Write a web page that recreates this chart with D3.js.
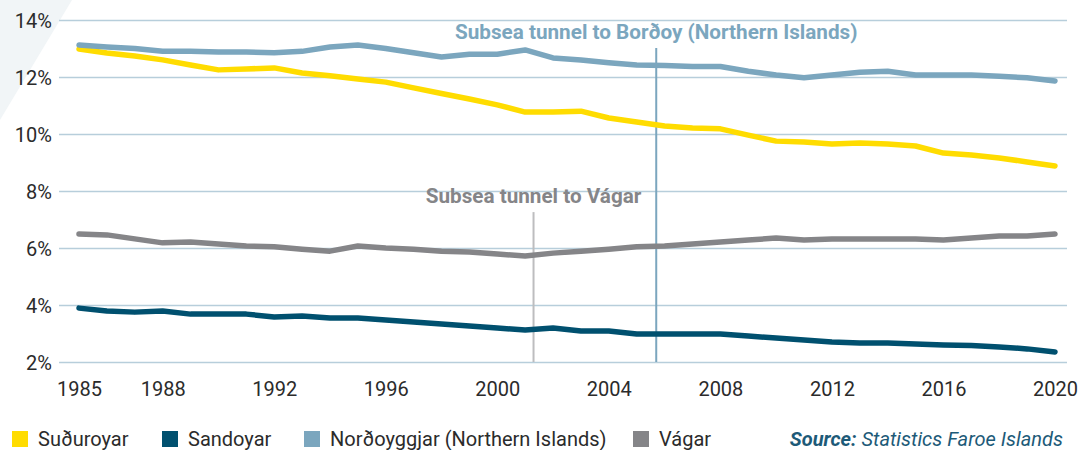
<!DOCTYPE html>
<html>
<head>
<meta charset="utf-8">
<script src="https://cdn.jsdelivr.net/npm/d3@7"></script>
<style>
  body { margin: 0; background: #fff; }
  svg text { font-family: Roboto, "Noto Sans", sans-serif; }
</style>
</head>
<body>
<svg id="chart" width="1082" height="450"></svg>
<script>
const years = d3.range(1985, 2021)

const suduroy = [12.98, 12.84, 12.74, 12.6, 12.42, 12.25, 12.28, 12.32, 12.14, 12.04, 11.93, 11.82,
  11.62, 11.42, 11.23, 11.02, 10.77, 10.77, 10.8, 10.56, 10.42, 10.28, 10.21, 10.18, 9.96, 9.75,
  9.72, 9.65, 9.68, 9.65, 9.58, 9.33, 9.26, 9.16, 9.02, 8.88]
const sandoy = [3.89, 3.79, 3.75, 3.79, 3.68, 3.68, 3.68, 3.58, 3.61, 3.54, 3.54, 3.47,
  3.4, 3.33, 3.26, 3.19, 3.12, 3.19, 3.09, 3.09, 2.98, 2.98, 2.98, 2.98, 2.91, 2.84,
  2.77, 2.7, 2.67, 2.67, 2.63, 2.6, 2.58, 2.53, 2.46, 2.35]
const nordoy = [13.12, 13.05, 13.0, 12.9, 12.9, 12.88, 12.88, 12.85, 12.9, 13.05, 13.12, 13.0,
  12.85, 12.7, 12.8, 12.8, 12.95, 12.67, 12.6, 12.5, 12.42, 12.4, 12.37, 12.37, 12.2, 12.07,
  11.97, 12.07, 12.17, 12.2, 12.07, 12.07, 12.07, 12.03, 11.97, 11.86]
const vagar = [6.49, 6.46, 6.32, 6.18, 6.21, 6.14, 6.07, 6.04, 5.96, 5.89, 6.07, 6.0,
  5.96, 5.89, 5.86, 5.79, 5.72, 5.82, 5.89, 5.96, 6.04, 6.07, 6.14, 6.21, 6.28, 6.35,
  6.28, 6.32, 6.32, 6.32, 6.32, 6.28, 6.35, 6.42, 6.42, 6.49]

const seriesNames = ['Suðuroyar', 'Sandoyar', 'Norðoyggjar (Northern Islands)', 'Vágar']
const seriesColors = ['#ffdc00', '#00506f', '#7ba6be', '#858588']

const yTicks = [2, 4, 6, 8, 10, 12, 14]
const xTicks = [1985, 1988, 1992, 1996, 2000, 2004, 2008, 2012, 2016, 2020]

// tunnel openings (position on the year axis)
const events = [
  {label: 'Subsea tunnel to Vágar', year: 2001.3, top: 7.26, labelY: 7.58, color: '#bdbdbf', textColor: '#858588'},
  {label: 'Subsea tunnel to Borðoy (Northern Islands)', year: 2005.7, top: 13.02, labelY: 13.35, color: '#7ba6be', textColor: '#7ba6be'}
]

const svg = d3.select('#chart')

// pale corner triangle
svg.append('path')
  .attr('d', 'M0,0 L72,0 L0,120 Z')
  .style('fill', '#f1f5f7')

const x = d3.scaleLinear().domain([1985, 2020]).range([79, 1055])
const y = d3.scaleLinear().domain([2, 14]).range([362, 20])

// gridlines + y labels
const yAxis = svg.append('g')
  .attr('transform', 'translate(59,0)')
  .call(d3.axisLeft(y).tickValues(yTicks).tickSize(-1008).tickFormat(d => d + '%').tickPadding(7))
yAxis.select('.domain').remove()
yAxis.selectAll('line').style('stroke', '#b7cedb').style('stroke-width', 1.5)
yAxis.selectAll('text')
  .style('font-size', '20px').style('fill', '#2b2b2b')
  .attr('dy', '0.35em')

const xAxis = svg.append('g')
  .attr('transform', 'translate(0,372)')
  .call(d3.axisBottom(x).tickValues(xTicks).tickSize(0).tickFormat(d3.format('d')).tickPadding(10))
xAxis.select('.domain').remove()
xAxis.selectAll('text')
  .style('font-size', '20px').style('fill', '#2b2b2b')

// event lines
events.forEach(e => {
  svg.append('line')
    .attr('x1', x(e.year)).attr('x2', x(e.year))
    .attr('y1', y(e.top)).attr('y2', y(2))
    .style('stroke', e.color).style('stroke-width', 2)
  svg.append('text')
    .attr('x', x(e.year))
    .attr('y', y(e.labelY))
    .text(e.label)
    .style('text-anchor', 'middle')
    .style('font-size', '20.7px')
    .style('font-weight', 'bold')
    .style('fill', e.textColor)
})

const line = d3.line()
  .x((d, i) => x(years[i]))
  .y(d => y(d))

const allSeries = [vagar, sandoy, suduroy, nordoy]
const colorOf = [3, 1, 0, 2]
allSeries.forEach((s, k) => {
  svg.append('path')
    .datum(s)
    .attr('d', line)
    .style('fill', 'none')
    .style('stroke', seriesColors[colorOf[k]])
    .style('stroke-width', 5.5)
    .style('stroke-linecap', 'round')
    .style('stroke-linejoin', 'round')
})

// legend
const legendX = [12, 162, 304, 633]
const legend = svg.append('g')
seriesNames.forEach((name, i) => {
  legend.append('rect')
    .attr('x', legendX[i]).attr('y', 431)
    .attr('width', 16).attr('height', 16)
    .style('fill', seriesColors[i])
  legend.append('text')
    .attr('x', legendX[i] + 26).attr('y', 446)
    .text(name)
    .style('font-size', '20px')
    .style('fill', '#2b2b2b')
})

const source = svg.append('text')
  .attr('x', 1063).attr('y', 446)
  .style('text-anchor', 'end')
  .style('font-size', '20px')
  .style('font-style', 'italic')
  .style('fill', '#1d5a78')
source.append('tspan').style('font-weight', 'bold').text('Source:')
source.append('tspan').text(' Statistics Faroe Islands')
</script>
</body>
</html>
